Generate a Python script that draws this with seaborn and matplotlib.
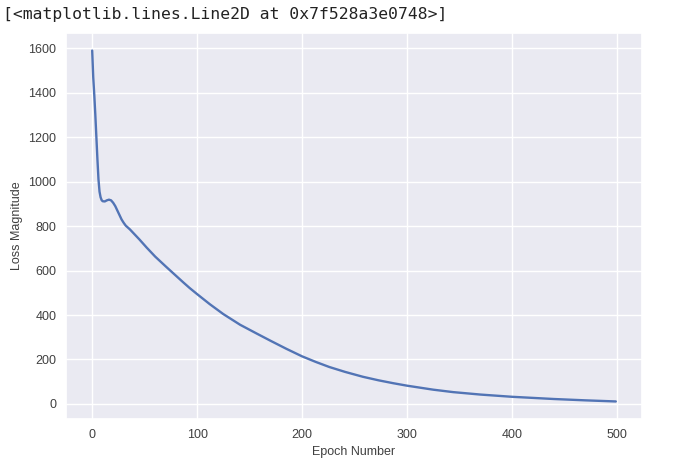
import matplotlib
matplotlib.use("Agg")
import matplotlib.pyplot as plt
import seaborn as sns
import pandas as pd

# Values
epochs = [0, 1, 2, 3, 4, 5, 6, 7, 8, 9, 10, 12, 14, 16, 18, 20, 22, 24, 26, 28,
          30, 32, 36, 40, 45, 52, 60, 70, 80, 87, 93, 100, 112, 125, 141, 157,
          170, 185, 200, 213, 226, 241, 258, 273, 287, 300, 325, 344, 370, 400,
          440, 470, 499]
loss = [1590, 1470, 1390, 1300, 1200, 1100, 1010, 955, 930, 917, 912, 911, 916,
        919, 916, 905, 890, 870, 850, 830, 815, 802, 785, 765, 740, 703, 663,
        619, 576, 546, 521, 494, 449, 404, 356, 316, 284, 248, 214, 189, 166,
        144, 122, 106, 93, 82, 64, 53, 42, 32, 22, 16, 11]

header_text = "[<matplotlib.lines.Line2D at 0x7f528a3e0748>]"
x_label = "Epoch Number"
y_label = "Loss Magnitude"

sns.set_theme(style="darkgrid")
plt.rcParams["font.family"] = ["Liberation Sans", "DejaVu Sans"]

df = pd.DataFrame({"epoch": epochs, "loss": loss})

fig = plt.figure(figsize=(6.8, 4.62), dpi=100)
ax = fig.add_axes([66 / 680, 1 - 419 / 462, (642 - 66) / 680, (419 - 33) / 462])

sns.lineplot(data=df, x="epoch", y="loss", ax=ax, color="#5274B5", linewidth=1.7)

ax.set_xlabel(x_label, fontsize=9, color="#404040")
ax.set_ylabel(y_label, fontsize=9, color="#404040")
ax.tick_params(axis="both", labelsize=9, colors="#404040", length=0, pad=7)
ax.set_xticks([0, 100, 200, 300, 400, 500])
ax.set_yticks([0, 200, 400, 600, 800, 1000, 1200, 1400, 1600])

fig.text(0.004, 1 - 14 / 462, header_text, family="DejaVu Sans Mono",
         fontsize=11.8, va="center", ha="left", color="#222222")

fig.savefig("out.png", dpi=100)
